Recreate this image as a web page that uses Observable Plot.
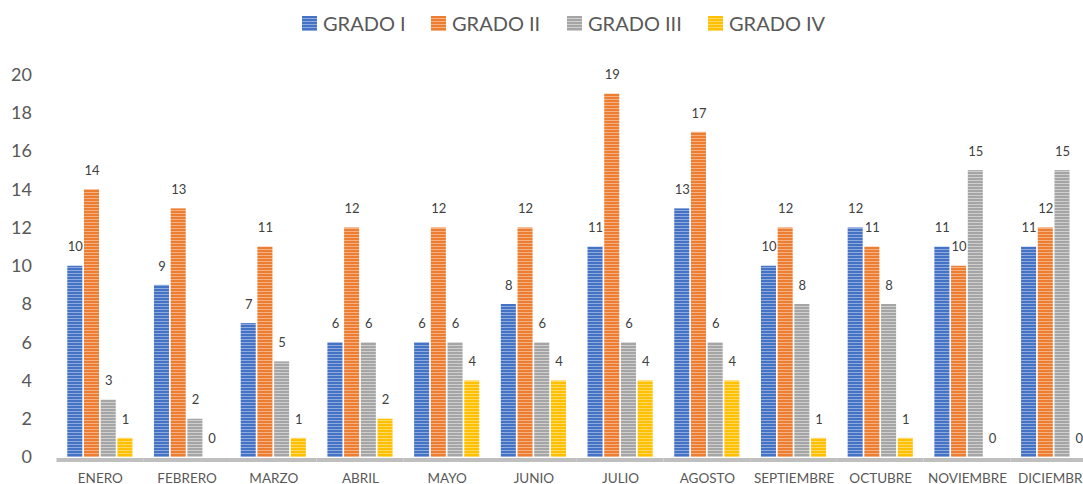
<!DOCTYPE html>
<html>
<head>
<meta charset="utf-8">
<script src="https://cdn.jsdelivr.net/npm/d3@7"></script>
<script src="https://cdn.jsdelivr.net/npm/@observablehq/plot@0.6"></script>
<style>
  html, body { margin: 0; padding: 0; background: #fff; overflow: hidden; }
  #wrap { position: relative; width: 1083px; height: 484px; overflow: hidden; font-family: Lato, "Liberation Sans", sans-serif; }
  #legend { position: absolute; left: 0; top: 0; width: 1083px; height: 40px; }
  .item { position: absolute; top: 11px; display: flex; align-items: center; font-size: 20px; color: #595959; line-height: 24px; white-space: nowrap; }
  .sw { width: 15px; height: 15px; margin-right: 6px; }
  #chart { position: absolute; left: 0; top: 40px; width: 1097px; }
  #chart svg { max-width: none !important; }
</style>
</head>
<body>
<div id="wrap">
  <div id="legend"></div>
  <div id="chart"></div>
</div>
<script>
const months = ["ENERO","FEBRERO","MARZO","ABRIL","MAYO","JUNIO","JULIO","AGOSTO","SEPTIEMBRE","OCTUBRE","NOVIEMBRE","DICIEMBRE"];
const grados = ["GRADO I","GRADO II","GRADO III","GRADO IV"];
const gradoI   = [10, 9, 7, 6, 6, 8, 11, 13, 10, 12, 11, 11];
const gradoII  = [14, 13, 11, 12, 12, 12, 19, 17, 12, 11, 10, 12];
const gradoIII = [3, 2, 5, 6, 6, 6, 6, 6, 8, 8, 15, 15];
const gradoIV  = [1, 0, 1, 2, 4, 4, 4, 4, 1, 1, 0, 0];
const yTicks = [0, 2, 4, 6, 8, 10, 12, 14, 16, 18, 20];

const baseColors  = ["#4472C4", "#ED7D31", "#A5A5A5", "#FFC000"];
const lightColors = ["#8FAADC", "#F4B183", "#CFCFCF", "#FFD966"];

const series = [gradoI, gradoII, gradoIII, gradoIV];
const data = [];
months.forEach((m, i) => {
  grados.forEach((g, j) => data.push({month: m, grado: g, value: series[j][i]}));
});

// Legend
const legend = document.getElementById("legend");
const legendX = [302, 431, 567, 708];
grados.forEach((g, j) => {
  const it = document.createElement("div");
  it.className = "item";
  it.style.left = legendX[j] + "px";
  const sw = document.createElement("span");
  sw.className = "sw";
  sw.style.background = `repeating-linear-gradient(to bottom, ${baseColors[j]} 0px, ${baseColors[j]} 2px, ${lightColors[j]} 2px, ${lightColors[j]} 3px)`;
  it.appendChild(sw);
  const t = document.createElement("span");
  t.textContent = g;
  it.appendChild(t);
  legend.appendChild(it);
});

const chart = Plot.plot({
  width: 1097,
  height: 470,
  marginLeft: 56.5,
  marginRight: 0,
  marginTop: 34.5,
  marginBottom: 53,
  style: {fontFamily: "Lato, 'Liberation Sans', sans-serif", color: "#595959", background: "transparent", maxWidth: "none"},
  fx: {domain: months, padding: 0, round: false, label: null},
  x: {domain: grados, paddingInner: 0.10, paddingOuter: 0.645, round: false, axis: null},
  y: {domain: [0, 20], label: null},
  color: {domain: grados, range: grados.map((g, j) => `url(#pat${j})`)},
  marks: [
    Plot.axisY({ticks: yTicks, tickSize: 0, tickPadding: 25, fontSize: 18, label: null, fill: "#595959"}),
    Plot.axisFx({anchor: "bottom", tickSize: 0, tickPadding: 16, fontSize: 13.5, label: null, fill: "#595959"}),
    Plot.barY(data, {fx: "month", x: "grado", y: "value", fill: "grado"}),
    Plot.ruleY([0], {stroke: "#BFBFBF", strokeWidth: 4, dy: 2.5}),
    Plot.text(data, {fx: "month", x: "grado", y: "value", text: d => String(d.value), dy: -19, fontSize: 13, fill: "#404040"})
  ]
});

// stripe patterns
const svg = d3.select(chart.tagName.toLowerCase() === "svg" ? chart : chart.querySelector("svg"));
const defs = svg.insert("defs", ":first-child");
baseColors.forEach((c, j) => {
  const p = defs.append("pattern")
    .attr("id", `pat${j}`)
    .attr("patternUnits", "userSpaceOnUse")
    .attr("width", 4).attr("height", 3);
  p.append("rect").attr("width", 4).attr("height", 3).attr("fill", c);
  p.append("rect").attr("y", 2).attr("width", 4).attr("height", 1).attr("fill", lightColors[j]);
});

document.getElementById("chart").appendChild(chart);
</script>
</body>
</html>
